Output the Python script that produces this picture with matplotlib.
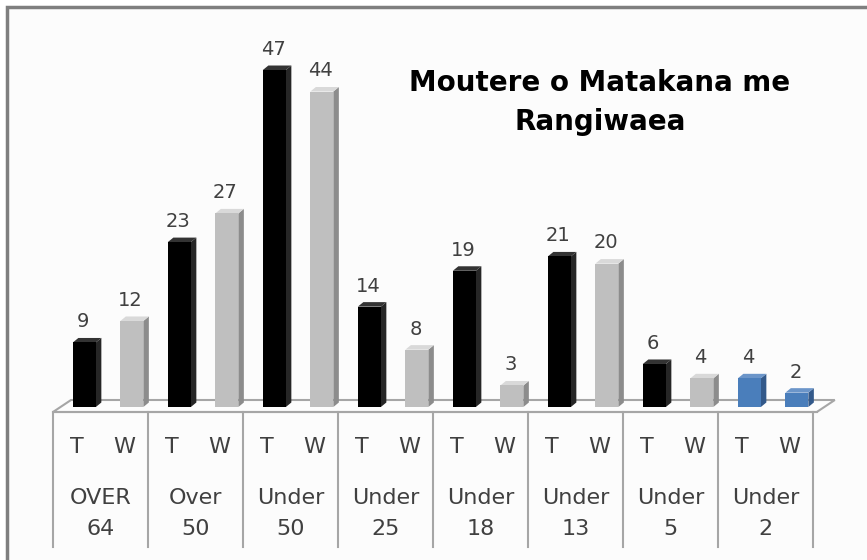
import matplotlib
matplotlib.use("Agg")
import matplotlib.pyplot as plt
from matplotlib.patches import Polygon, Rectangle

# data
groups = ['OVER\n64', 'Over\n50', 'Under\n50', 'Under\n25',
          'Under\n18', 'Under\n13', 'Under\n5', 'Under\n2']
sub_labels = ['T', 'W']
t_vals = [9, 23, 47, 14, 19, 21, 6, 4]
w_vals = [12, 27, 44, 8, 3, 20, 4, 2]
title = 'Moutere o Matakana me\nRangiwaea'

W_PX, H_PX = 867, 560
fig = plt.figure(figsize=(W_PX / 100, H_PX / 100), dpi=100)
fig.patch.set_facecolor('white')

# chart frame (cut off at right and bottom like the screenshot)
fig.add_artist(Rectangle((7 / W_PX, -0.1), 1.2, 1 - 7 / H_PX + 0.1,
                         transform=fig.transFigure, facecolor='#fcfcfc',
                         edgecolor='#7f7f7f', lw=2.5, zorder=0))

ax = fig.add_axes([0, 0, 1, 1])
ax.patch.set_alpha(0)
ax.axis('off')

# scales: one group = 95 px, one unit = 7.17 px, zero line at 407 px
gx, gy, x0px, y0px = 95.0, 7.17, 53.0, 407.0
ax.set_xlim(-x0px / gx, (W_PX - x0px) / gx)
ax.set_ylim((y0px - H_PX) / gy, y0px / gy)

n = len(groups)
bw = 23 / gx            # front face width
dx, dy = 5.5 / gx, 4.5 / gy  # depth of the bars
fdx = 18 / gx           # floor depth
f_front, f_back = -5 / gy, 7 / gy

# floor
ax.add_patch(Polygon([(0, f_front), (n + 0.04, f_front),
                      (n + 0.04 + fdx, f_back), (fdx, f_back)],
                     closed=True, facecolor='#fdfdfd', edgecolor='#a6a6a6',
                     lw=1.5, zorder=1))

styles = {
    'black': ('#000000', '#262626', '#333333'),
    'grey': ('#bfbfbf', '#8c8c8c', '#d9d9d9'),
    'blue': ('#4a7ebb', '#33598a', '#6b95c9'),
}


def draw_bar(xc, h, style):
    front, side, top = styles[style]
    xa, xb = xc - bw / 2, xc + bw / 2
    ax.add_patch(Polygon([(xb, 0), (xb, h), (xb + dx, h + dy), (xb + dx, dy)],
                         closed=True, facecolor=side, edgecolor='none', zorder=3))
    ax.add_patch(Polygon([(xa, h), (xa + dx, h + dy), (xb + dx, h + dy), (xb, h)],
                         closed=True, facecolor=top, edgecolor='none', zorder=3))
    ax.bar(xc, h, width=bw, bottom=0, color=front, zorder=4)
    ax.annotate(str(h), (xc, h), xytext=(-1, 8), textcoords='offset points',
                ha='center', va='bottom', fontsize=14, color='#404040',
                family='DejaVu Sans', zorder=5)


for i in range(n):
    last = i == n - 1
    draw_bar(i + 0.33, t_vals[i], 'blue' if last else 'black')
    draw_bar(i + 0.83, w_vals[i], 'blue' if last else 'grey')

# category table below the floor
tbl_bottom = (y0px - 547) / gy
ax.plot([0, n + 0.04], [f_front, f_front], color='#a6a6a6', lw=1.5, zorder=2)
for k in range(n + 1):
    ax.plot([k, k], [f_front, tbl_bottom], color='#a6a6a6', lw=1.5, zorder=2)

y_sub = (y0px - 447) / gy
y_grp = (y0px - 513.5) / gy
for i, g in enumerate(groups):
    for j, s in enumerate(sub_labels):
        ax.text(i + 0.25 + 0.5 * j, y_sub, s, ha='center', va='center',
                fontsize=16, color='#404040', family='DejaVu Sans')
    ax.text(i + 0.5, y_grp, g, ha='center', va='center', fontsize=16,
            color='#404040', family='DejaVu Sans', linespacing=1.7)

fig.text(600 / W_PX, 1 - 102.5 / H_PX, title, ha='center', va='center',
         fontsize=20, fontweight='bold', color='#000000',
         family='DejaVu Sans', linespacing=1.52)

fig.savefig('out.png', dpi=100)
